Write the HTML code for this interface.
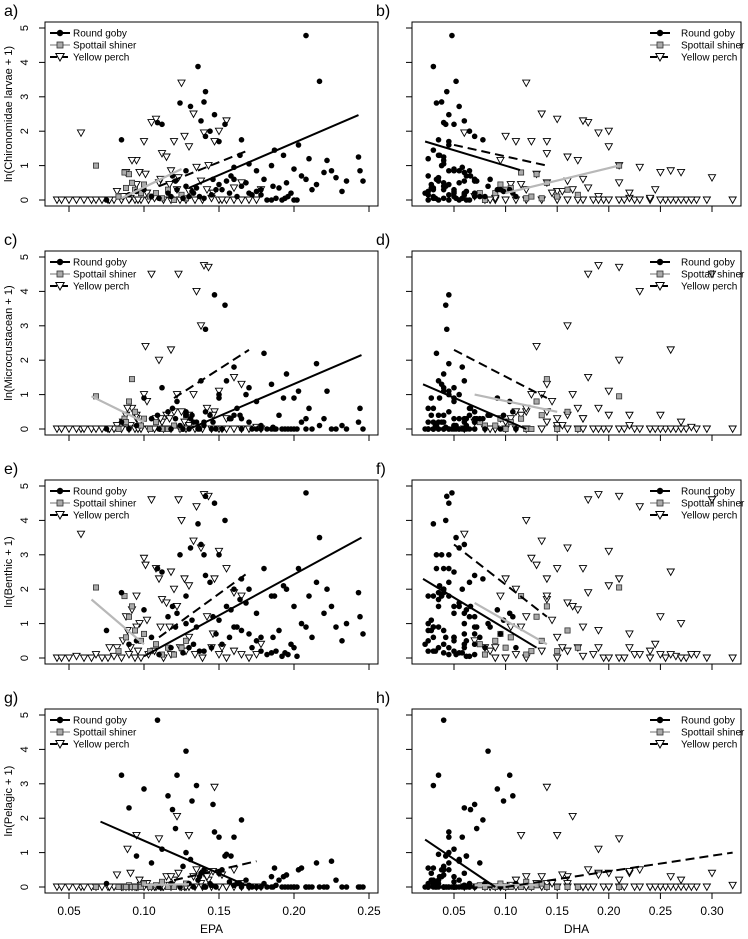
<!DOCTYPE html>
<html><head><meta charset="utf-8"><style>
body{margin:0;background:#fff}
svg{display:block;font-family:"Liberation Sans",Arial,sans-serif}
</style></head><body>
<svg id="chart" width="748" height="939" viewBox="0 0 748 939"></svg>
<script>
// ---- data (shared by all panels: each fish has EPA, DHA, and four diet responses) ----
const gobyEPA=[0.208,0.217,0.136,0.141,0.140,0.131,0.124,0.147,0.138,0.141,0.154,0.144,0.109,0.112,0.085,0.150,0.165,0.187,0.193,0.203,0.210,0.225,0.235,0.243,0.244,0.246,0.185,0.170,0.175,0.160,0.158,0.155,0.150,0.135,0.128,0.122,0.116,0.090,0.100,0.132,0.146,0.119,0.121,0.095,0.105,0.128,0.180,0.190,0.195,0.200,0.205,0.215,0.220,0.228,0.182,0.185,0.188,0.192,0.196,0.200,0.175,0.178,0.170,0.165,0.162,0.168,0.172,0.157,0.152,0.145,0.140,0.137,0.133,0.126,0.118,0.110,0.075,0.212,0.232,0.222,0.198,0.160,0.148,0.130,0.178,0.186,0.194,0.202,0.208,0.164];
const gobyDHA=[0.048,0.052,0.030,0.043,0.038,0.055,0.033,0.045,0.060,0.070,0.042,0.065,0.040,0.050,0.035,0.045,0.078,0.030,0.036,0.045,0.025,0.055,0.060,0.040,0.065,0.070,0.038,0.040,0.050,0.058,0.062,0.035,0.028,0.030,0.083,0.104,0.107,0.060,0.092,0.098,0.070,0.066,0.072,0.062,0.075,0.045,0.033,0.028,0.040,0.050,0.025,0.045,0.060,0.035,0.045,0.055,0.030,0.065,0.070,0.035,0.025,0.050,0.060,0.040,0.030,0.055,0.045,0.050,0.040,0.060,0.032,0.050,0.070,0.040,0.080,0.052,0.025,0.030,0.050,0.040,0.022,0.085,0.095,0.110,0.025,0.042,0.058,0.062,0.070,0.035];
const gobyChiro=[4.78,3.45,3.88,3.15,2.85,2.72,2.82,2.48,2.30,1.85,2.20,2.0,2.25,2.20,1.75,1.70,1.75,1.45,1.30,1.60,1.20,0.85,0.55,1.25,0.85,0.55,1.00,1.05,0.85,0.95,0.70,0.55,0.45,0.35,0.40,0.30,0.20,0.15,0.30,0.25,0.60,0.70,0.55,0.25,0.10,0.85,0.60,0.35,0.50,0.90,0.70,0.45,0.80,0.65,0,0,0.05,0,0.1,0,0.25,0.3,0.2,0.4,0.1,0.5,0.15,0.2,0.3,0.15,0.05,0.1,0.2,0.05,0.1,0.05,0,0.3,0.25,1.15,0.2,0.6,0.3,0.1,0.15,0.4,0.05,0,0.6,1.3];
const gobyMicro=[0,0.1,0,2.9,0.2,0.3,0.1,3.9,1.4,0.5,3.6,0.4,0.4,1.2,0.2,1.0,0.3,0,0.9,1.1,0.6,0,0,0.2,0.6,0,1.3,1.2,0.8,1.8,0.3,1.4,0.9,0.2,0.4,0.8,0.5,0,0.9,0.4,0.2,0.6,0.3,0.1,0.3,0.5,2.2,0.4,1.6,0.9,0.2,1.9,0.3,0,0,0,0,0,0,0,0,0.1,0.2,0,0.6,1.0,0,0.3,0,0,0.1,0,0.2,0,0,0,0,0,0.1,1.1,0,0.4,0,0,0,0.05,0,0,0.3,0.4];
const gobyBenthic=[4.8,3.5,3.9,4.7,3.0,3.2,3.0,4.5,3.3,2.4,4.0,2.2,2.6,2.5,1.9,3.0,2.3,1.8,2.1,2.6,1.8,1.5,1.0,1.9,1.2,0.7,1.8,2.0,1.3,2.0,1.4,1.5,1.1,0.9,1.0,1.3,1.2,0.4,1.4,1.1,1.2,1.5,0.9,0.5,0.6,1.8,2.6,0.8,2.0,1.5,1.0,2.2,1.3,0.9,0.1,0.15,0.2,0.05,0.1,0.3,0.5,0.6,0.7,0.8,0.9,1.6,0.3,0.6,0.4,0.3,0.2,0.2,0.4,0.15,0.3,0.1,0.8,0.6,0.5,2.0,0.4,0.9,0.7,0.3,0.2,0.6,0.15,0.05,0.9,1.7];
const gobyPelagic=[0,0,0.2,0,0.5,0.8,0,1.6,0.4,0,0.9,0.1,4.85,1.1,3.25,1.45,1.95,0.55,0.3,0.5,0,0.75,0,0,0,0,0.3,0,0,1.45,0.9,0.95,0.4,2.95,3.95,3.25,2.65,2.3,2.85,2.5,2.4,2.25,1.7,0.9,0.7,1.0,0.1,0.2,0.35,0,0.55,0.7,0,0.2,0,0,0.05,0,0,0,0,0,0.05,0,0.1,0.2,0,0.15,0.5,0.05,0,0.3,0,0.6,0.1,0,0.1,0,0,0,0,0.05,0,0.1,0,0,0,0,0,0.1];

const perchEPA=[0.058,0.125,0.133,0.105,0.108,0.127,0.120,0.100,0.112,0.115,0.095,0.092,0.130,0.140,0.143,0.135,0.155,0.147,0.150,0.088,0.097,0.101,0.118,0.123,0.138,0.110,0.095,0.122,0.130,0.082,0.089,0.091,0.160,0.165,0.142,0.117,0.102,0.042,0.045,0.050,0.055,0.060,0.065,0.068,0.072,0.076,0.080,0.085,0.090,0.094,0.098,0.103,0.107,0.113,0.118,0.124,0.128,0.134,0.139,0.145,0.150,0.155,0.160,0.165,0.170,0.175,0.178,0.077,0.086,0.096,0.146,0.152,0.111];
const perchDHA=[0.060,0.120,0.135,0.180,0.150,0.100,0.110,0.125,0.140,0.160,0.095,0.170,0.200,0.190,0.210,0.230,0.175,0.140,0.200,0.250,0.270,0.130,0.260,0.300,0.160,0.210,0.115,0.165,0.150,0.155,0.190,0.220,0.180,0.140,0.120,0.105,0.145,0.090,0.120,0.150,0.175,0.195,0.210,0.225,0.240,0.255,0.265,0.275,0.285,0.295,0.320,0.230,0.240,0.200,0.185,0.170,0.135,0.110,0.100,0.090,0.250,0.215,0.160,0.260,0.270,0.280,0.245,0.080,0.070,0.085,0.220,0.190,0.175];
const perchChiro=[1.95,3.40,2.50,2.25,2.35,1.85,1.70,1.70,1.35,1.25,1.15,1.15,1.55,1.95,1.00,0.95,2.30,1.70,2.0,0.80,0.80,0.75,0.85,0.65,0.55,0.50,0.45,0.30,0.25,0.25,0.10,0.05,0.35,0.50,0.30,0.45,0.2,0,0,0,0,0,0,0,0,0,0,0,0,0,0,0,0.05,0,0,0,0,0,0,0.05,0,0,0,0,0,0,0.3,0,0.1,0,0.2,0,0.6];
const perchMicro=[0,0.5,1.0,4.5,0.3,0.2,0.5,1.0,0.2,0.4,0.3,0.6,0.4,4.75,4.7,4.0,0.3,0.5,1.1,0.4,0.2,2.4,2.3,4.5,3.0,2.0,0.4,1.0,0.1,0.1,0.6,0.1,1.5,1.3,0.6,0.3,0.8,0,0,0,0,0,0,0,0,0,0,0,0,0,0,0,0,0,0,0,0,0,0,0,0,0,0,0,0,0.05,0,0,0.2,0,0.4,0,0.3];
const perchBenthic=[3.6,4.0,3.4,4.6,2.6,2.3,2.0,2.9,1.7,1.6,1.8,1.4,2.1,4.75,4.7,4.4,2.6,2.3,3.1,1.2,1.0,2.7,2.5,4.6,3.2,2.3,0.9,1.5,0.6,0.3,0.8,0.3,1.9,1.8,1.2,0.9,1.1,0,0,0,0.05,0,0,0.1,0,0,0.05,0,0.1,0,0,0.1,0.2,0,0.1,0.3,0.2,0.1,0,0.3,0.1,0,0.2,0.1,0,0.1,0.4,0.3,0.5,0.2,0.7,0.3,0.9];
const perchPelagic=[0,0,0.3,0,0,0,0.2,0,0,0.3,0,0,0,0.4,0.2,0.5,0,2.9,0.4,0,0.2,0.1,0.3,0.4,0.1,1.4,1.5,2.05,1.5,0.35,1.1,0.4,0.5,0.1,0.3,0.05,0.1,0,0,0,0,0,0,0,0,0,0,0,0,0,0.05,0,0,0,0,0,0,0,0,0,0,0,0,0,0,0,0,0,0,0,0.45,0.35,0];

const shinerEPA=[0.068,0.087,0.090,0.092,0.088,0.094,0.098,0.100,0.104,0.108,0.112,0.116,0.120,0.125,0.128,0.083];
const shinerDHA=[0.210,0.115,0.130,0.140,0.105,0.160,0.090,0.095,0.150,0.075,0.120,0.100,0.080,0.170,0.135,0.125];
const shinerChiro=[1.0,0.8,0.75,0.5,0.35,0.3,0.2,0.45,0.1,0.2,0.05,0.3,0.0,0.15,0.05,0.1];
const shinerMicro=[0.95,0.3,0.8,1.45,0.2,0.5,0.1,0.3,0,0.2,0,0,0.1,0,0.4,0];
const shinerBenthic=[2.05,1.8,1.2,1.5,0.6,0.8,0.5,0.7,0.2,0.4,0.1,0.3,0.1,0.3,0.5,0.2];
const shinerPelagic=[0,0,0.05,0,0,0,0,0.1,0,0.05,0.15,0,0,0,0.1,0];

// regression lines per panel: [x1, x2, y1, y2]  (panels a..h)
const gobyLines=[[0.13,0.243,0.35,2.47],[0.022,0.114,1.7,0.87],[0.13,0.245,0,2.15],[0.02,0.12,1.3,0],[0.10,0.245,0.05,3.5],[0.02,0.13,2.3,0.3],[0.071,0.168,1.9,0.05],[0.022,0.09,1.38,0]];
const perchLines=[[0.11,0.17,0.4,1.45],[0.05,0.14,1.6,1.0],[0.12,0.17,0.9,2.3],[0.05,0.14,2.3,0.9],[0.11,0.17,0.6,2.5],[0.05,0.14,3.3,1.2],[0.12,0.175,0.2,0.75],[0.10,0.32,0.0,1.0]];
const shinerLines=[[0.085,0.125,0.05,0.9],[0.10,0.21,0.2,1.0],[0.065,0.10,0.95,0.2],[0.07,0.15,1.0,0.5],[0.065,0.10,1.7,0.4],[0.07,0.14,1.6,0.4],[0.10,0.13,0.06,0.08],[0.07,0.13,0.05,0.06]];

const panelLabels=["a)","b)","c)","d)","e)","f)","g)","h)"];
const yTitles=["ln(Chironomidae larvae + 1)","ln(Microcrustacean + 1)","ln(Benthic + 1)","ln(Pelagic + 1)"];
const yTicks=[0,1,2,3,4,5];
const epaTicks=[0.05,0.10,0.15,0.20,0.25];
const dhaTicks=[0.05,0.10,0.15,0.20,0.25,0.30];

// ---- drawing ----
const NS="http://www.w3.org/2000/svg";
const svg=document.getElementById('chart');
function mk(tag,attrs,parent){const e=document.createElementNS(NS,tag);for(const k in attrs)e.setAttribute(k,attrs[k]);(parent||svg).appendChild(e);return e;}
const gobyY=[gobyChiro,gobyMicro,gobyBenthic,gobyPelagic];
const perchY=[perchChiro,perchMicro,perchBenthic,perchPelagic];
const shinerY=[shinerChiro,shinerMicro,shinerBenthic,shinerPelagic];

for(let row=0;row<4;row++){
 for(let col=0;col<2;col++){
  const p=row*2+col;
  const L=col?412:45, R=col?741:378;
  const T=22+229*row, B=206+229*row, Y0=200+229*row;
  const xs=col?(v=>454+(v-0.05)*1032):(v=>69+(v-0.05)*1500);
  const ys=v=>Y0-v*34.4;
  const g=mk('g',{});
  
  
  const lab=mk('text',{x:col?376:4,y:T-6,'font-size':16},g);lab.textContent=panelLabels[p];
  
  // y ticks
  yTicks.forEach(t=>{
   const tk=mk('line',{x1:L,x2:L-6,y1:ys(t),y2:ys(t),stroke:'#000','stroke-width':1},g);
   
   if(!col){const tx=mk('text',{x:0,y:0,'font-size':11,'text-anchor':'middle',transform:`translate(28,${ys(t)}) rotate(-90)`},g);tx.textContent=t;
    }
  });
  if(!col){const yt=mk('text',{x:0,y:0,'font-size':11,'text-anchor':'middle',transform:`translate(12,${(T+B)/2}) rotate(-90)`},g);yt.textContent=yTitles[row];
   }
  // x ticks
  (col?dhaTicks:epaTicks).forEach(t=>{
   const tk=mk('line',{x1:xs(t),x2:xs(t),y1:B,y2:B+6,stroke:'#000','stroke-width':1},g);
   
   if(row===3){const tx=mk('text',{x:xs(t),y:B+22,'font-size':12,'text-anchor':'middle'},g);tx.textContent=t.toFixed(2);
    }
  });
  if(row===3){const xt=mk('text',{x:(L+R)/2,y:B+40,'font-size':12,'text-anchor':'middle'},g);xt.textContent=col?'DHA':'EPA';
   }
  // points: perch
  const pxArr=col?perchDHA:perchEPA;
  pxArr.forEach((v,i)=>{const cx=xs(v),cy=ys(perchY[row][i]);
   const m=mk('path',{d:`M${cx-3.6},${cy-3} L${cx+3.6},${cy-3} L${cx},${cy+3.4} Z`,fill:'#fff',stroke:'#000','stroke-width':0.9},g);
   });
  const sxArr=col?shinerDHA:shinerEPA;
  sxArr.forEach((v,i)=>{const cx=xs(v),cy=ys(shinerY[row][i]);
   const m=mk('rect',{x:cx-2.6,y:cy-2.6,width:5.2,height:5.2,fill:'#aaa',stroke:'#333','stroke-width':0.8},g);
   });
  const gxArr=col?gobyDHA:gobyEPA;
  gxArr.forEach((v,i)=>{const m=mk('circle',{cx:xs(v),cy:ys(gobyY[row][i]),r:2.8,fill:'#000'},g);
   });
  // regression lines
  const gl=gobyLines[p],pl=perchLines[p],sl=shinerLines[p];
  const l1=mk('line',{x1:xs(sl[0]),x2:xs(sl[1]),y1:ys(sl[2]),y2:ys(sl[3]),stroke:'#b8b8b8','stroke-width':2.2},g);
  
  const l2=mk('line',{x1:xs(pl[0]),x2:xs(pl[1]),y1:ys(pl[2]),y2:ys(pl[3]),stroke:'#000','stroke-width':2,'stroke-dasharray':'9,5'},g);
  
  const l3=mk('line',{x1:xs(gl[0]),x2:xs(gl[1]),y1:ys(gl[2]),y2:ys(gl[3]),stroke:'#000','stroke-width':2},g);
  
  // box
  const bx=mk('rect',{x:L,y:T,width:R-L,height:B-T,fill:'none',stroke:'#000','stroke-width':1},g);
  
  // legend
  const lg=mk('g',{},g);
  
  const lx=col?650:50, tx0=col?681:73;
  const names=['Round goby','Spottail shiner','Yellow perch'];
  names.forEach((n,k)=>{const yy=T+11+k*12;
   const ln=mk('line',{x1:lx,x2:lx+20,y1:yy,y2:yy,stroke:k===1?'#b8b8b8':'#000','stroke-width':2,'stroke-dasharray':k===2?'7,4':'none'},lg);
   
   let s;const cx=lx+10;
   if(k===0)s=mk('circle',{cx:cx,cy:yy,r:3.2,fill:'#000'},lg);
   else if(k===1)s=mk('rect',{x:cx-3,y:yy-3,width:6,height:6,fill:'#aaa',stroke:'#333','stroke-width':0.8},lg);
   else s=mk('path',{d:`M${cx-4.2},${yy-3.5} L${cx+4.2},${yy-3.5} L${cx},${yy+4} Z`,fill:'#fff',stroke:'#000','stroke-width':1},lg);
   
   const t=mk('text',{x:tx0,y:yy+3.5,'font-size':10},lg);t.textContent=n;
   });
 }
}
</script>
</body></html>
